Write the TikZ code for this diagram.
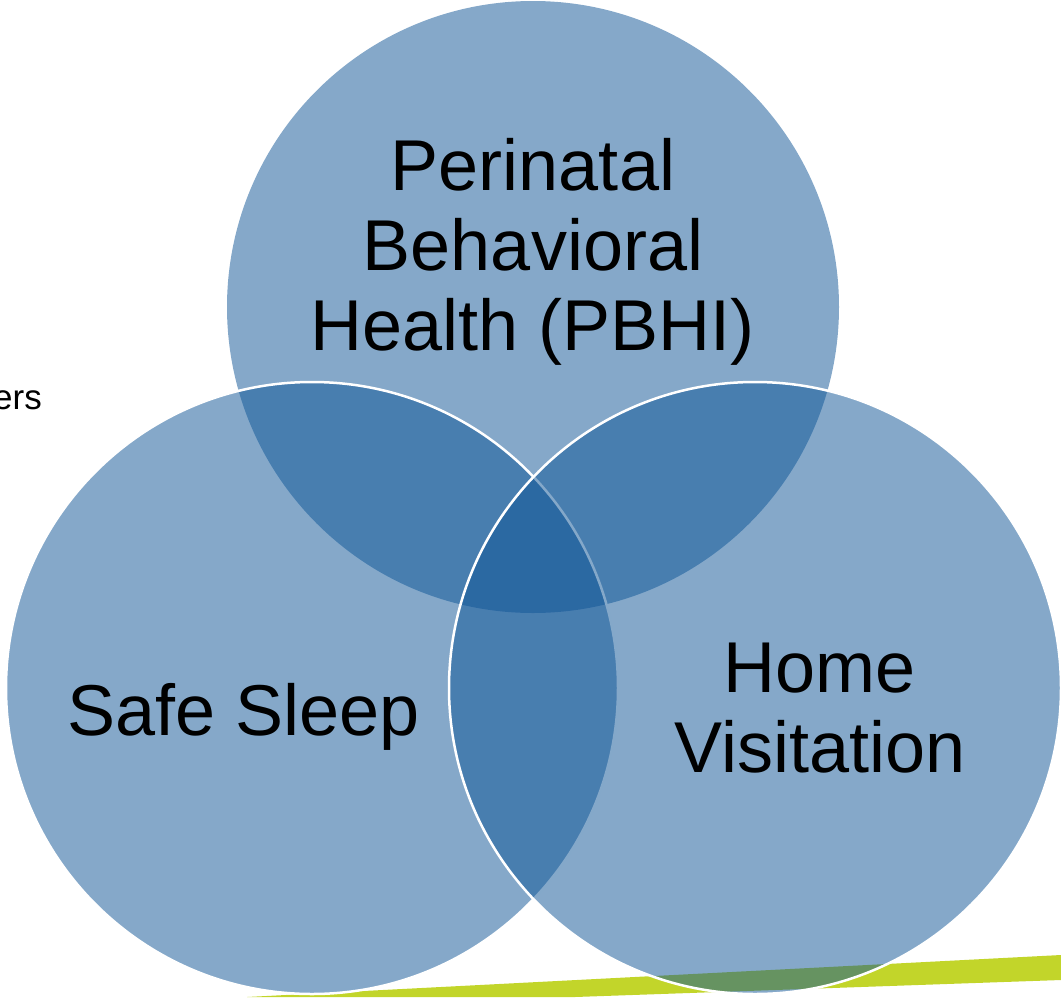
\documentclass[tikz,border=0pt]{standalone}
\usepackage{fontspec}
\setmainfont{Liberation Sans}
\definecolor{vennblue}{RGB}{15,85,150}
\definecolor{bandgreen}{RGB}{194,213,42}
\begin{document}
\begin{tikzpicture}[x=1pt,y=-1pt,
  vennfill/.style={circle,minimum size=612pt,inner sep=0pt,fill=vennblue,fill opacity=0.51},
  vennline/.style={draw=white,line width=2.5pt,draw opacity=1},
  bigtext/.style={font=\fontsize{72}{80}\selectfont,align=center,text=black,inner sep=0pt},
  smalltext/.style={font=\fontsize{35}{40}\selectfont,text=black,inner sep=0pt}]
\useasboundingbox (0,0) rectangle (1061,997);
% green band
\fill[bandgreen] (247,997) -- (1061,955) -- (1061,980) -- (575,997) -- cycle;
% circles
\node[vennfill] (top) at (533,307) {};
\node[vennfill,vennline] (left) at (312,688) {};
\node[vennfill,vennline] (right) at (755,688) {};
% labels
\node[bigtext,anchor=north] (toplabel) at (533,138) {Perinatal\\Behavioral\\Health (PBHI)};
\node[bigtext,anchor=base] (leftlabel) at (244,735) {Safe Sleep};
\node[bigtext,anchor=north] (rightlabel) at (820,643) {Home\\Visitation};
\node[smalltext,anchor=base east] (ers) at (42,409) {ers};
\end{tikzpicture}
\end{document}
